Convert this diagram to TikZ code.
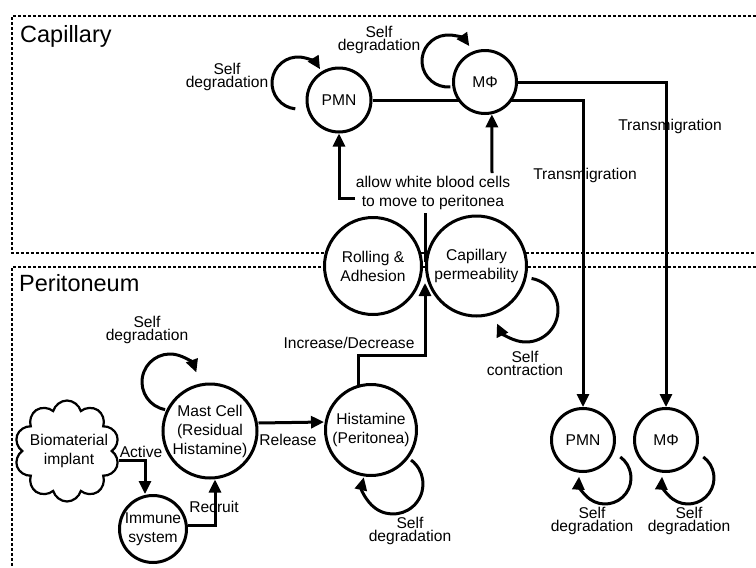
\documentclass[tikz,border=0pt]{standalone}
\usepackage{fontspec}
\setmainfont{Liberation Sans}
\usetikzlibrary{arrows.meta,shapes.symbols}
\pgfdeclarelayer{bg}
\pgfsetlayers{bg,main}
\newcommand\mytightlines{\lineskiplimit-30pt\relax}
\begin{document}
\begin{tikzpicture}[x=1pt,y=1pt,
  cnode/.style={circle,draw,line width=3pt,fill=white,inner sep=0pt,align=center,
    font=\fontsize{15.6}{19}\selectfont},
  txt/.style={inner sep=0pt,align=center,font=\fontsize{15.6}{19}\selectfont},
  sdl/.style={inner sep=0pt,align=center,font=\fontsize{15.6}{13}\selectfont\mytightlines},
  ttl/.style={inner sep=0pt,anchor=west,font=\fontsize{23.5}{27}\selectfont},
  ln/.style={line width=3pt},
  arr/.style={line width=3pt,-{Triangle[length=13pt,width=12pt]}},
  zone/.style={line width=1.2pt,dash pattern=on 3pt off 2pt}]
\useasboundingbox (0,0) rectangle (756,-568);

% nodes
\node[cnode,minimum size=64pt] (pmn) at (339,-100) {PMN};
\node[cnode,minimum size=63pt] (mp) at (485,-82) {MΦ};
\node[cnode,minimum size=97pt] (roll) at (373,-266) {Rolling \&\\Adhesion};
\node[cnode,minimum size=100pt] (cap) at (476.5,-266) {Capillary\\permeability};
\node[cnode,minimum size=91pt] (hist) at (371,-430) {Histamine\\(Peritonea)};
\node[cnode,minimum size=94pt] (mast) at (210,-431) {Mast Cell\\(Residual\\Histamine)};
\node[cnode,minimum size=67pt] (imm) at (153,-529) {Immune\\system};
\node[cnode,minimum size=63pt] (pmnb) at (583,-440) {PMN};
\node[cnode,minimum size=63pt] (mpb) at (666,-440) {MΦ};
\node[cloud,cloud puffs=10,draw,line width=2.2pt,fill=white,inner sep=0pt,
  minimum width=105pt,minimum height=101pt] (bio) at (67,-451) {};
\node[txt] (biotxt) at (69,-451) {Biomaterial\\implant};

% titles
\node[ttl] (tcap) at (20,-36) {Capillary};
\node[ttl] (tper) at (19,-283.5) {Peritoneum};

% labels
\node[txt] (allow) at (433,-193) {allow white blood cells\\to move to peritonea};
\node[txt] (tr1) at (585,-175) {Transmigration};
\node[txt] (tr2) at (670,-126) {Transmigration};
\node[txt] (incr) at (349,-343) {Increase/Decrease};
\node[txt] (rel) at (288,-440) {Release};
\node[txt] (act) at (141,-452) {Active};
\node[txt] (rec) at (214,-507) {Recruit};

\node[sdl] (s1) at (227,-77) {Self\\degradation};
\node[sdl] (s2) at (379,-40) {Self\\degradation};
\node[sdl] (s3) at (525,-363) {Self\\contraction};
\node[sdl] (s4) at (147,-330) {Self\\degradation};
\node[sdl] (s5) at (410,-531) {Self\\degradation};
\node[sdl] (s6) at (592,-521) {Self\\degradation};
\node[sdl] (s7) at (689,-521) {Self\\degradation};

% background: zones and lines passing behind circles
\begin{pgfonlayer}{bg}
  \draw[zone] (756,-16) -- (12,-16) -- (12,-253) -- (756,-253);
  \draw[zone] (756,-267) -- (12,-267) -- (12,-568);
  \draw[arr] (pmn.east) -| (pmnb.north);
  \draw[ln] (425,-262) -- (425,-213);
\end{pgfonlayer}

% connectors
\draw[arr] (mp.east) -| (mpb.north);
\draw[arr] (355,-198) -| (pmn.south);
\draw[arr] (492,-173) -- (mp.-78);
\draw[arr] (hist.106) |- (425,-355) -- (425,-283);
\draw[arr] ([yshift=8pt]mast.east) -- ([yshift=8pt]hist.west);
\draw[arr] (bio.-10) -| ([xshift=-8pt]imm.north);
\draw[arr] ([yshift=4pt]imm.east) -| ([xshift=5pt]mast.south);

% self loops
\draw[arr] ([shift={(-96:26)}]298,-83) arc[start angle=-96,end angle=-328,radius=26];
\draw[arr] ([shift={(-85:26)}]448,-61) arc[start angle=-85,end angle=-325,radius=26];
\draw[arr] ([shift={(-280:32)}]526,-310) arc[start angle=-280,end angle=-515,radius=32];
\draw[arr] ([shift={(-100:28)}]170,-382) arc[start angle=-100,end angle=-340,radius=28];
\draw[arr] ([shift={(-307:30)}]393,-484) arc[start angle=-307,end angle=-553,radius=30];
\draw[arr] ([shift={(-306:26)}]605,-478) arc[start angle=-306,end angle=-543,radius=26];
\draw[arr] ([shift={(-306:26)}]688,-478) arc[start angle=-306,end angle=-543,radius=26];
\end{tikzpicture}
\end{document}
